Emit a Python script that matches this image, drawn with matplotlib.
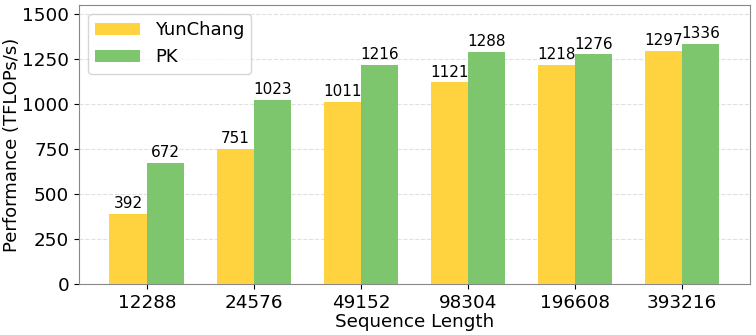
import numpy as np
import matplotlib
matplotlib.use("Agg")
import matplotlib.pyplot as plt

seq_len = ["12288", "24576", "49152", "98304", "196608", "393216"]
yunchang = [392, 751, 1011, 1121, 1218, 1297]
pk = [672, 1023, 1216, 1288, 1276, 1336]

cor_amarelo = "#FFD23F"
cor_verde = "#7DC66D"

fig, ax = plt.subplots(figsize=(7.56, 3.35), dpi=100)

x = np.arange(len(seq_len))
w = 0.35

b1 = ax.bar(x - w / 2, yunchang, w, color=cor_amarelo, label="YunChang", zorder=3)
b2 = ax.bar(x + w / 2, pk, w, color=cor_verde, label="PK", zorder=3)

# rotulos em cima das barras
for barras in (b1, b2):
    for b in barras:
        ax.text(b.get_x() + b.get_width() / 2, b.get_height() + 15, f"{int(b.get_height())}",
                ha="center", va="bottom", fontsize=11)

ax.set_xticks(x)
ax.set_xticklabels(seq_len)
ax.set_ylim(0, 1550)
ax.set_yticks([0, 250, 500, 750, 1000, 1250, 1500])
ax.tick_params(labelsize=13.2)
ax.set_xlabel("Sequence Length", fontsize=13.2, labelpad=1)
ax.set_ylabel("Performance (TFLOPs/s)", fontsize=13)
ax.yaxis.set_label_coords(-0.086, 0.5)

ax.yaxis.grid(True, linestyle="--", color="#e0e0e0", linewidth=0.8, zorder=0)
for s in ax.spines.values():
    s.set_color("#888888")

ax.legend(loc="upper left", fontsize=13, handlelength=2.5)

plt.subplots_adjust(left=0.1045, right=0.992, top=0.985, bottom=0.152)
plt.savefig("out.png")
